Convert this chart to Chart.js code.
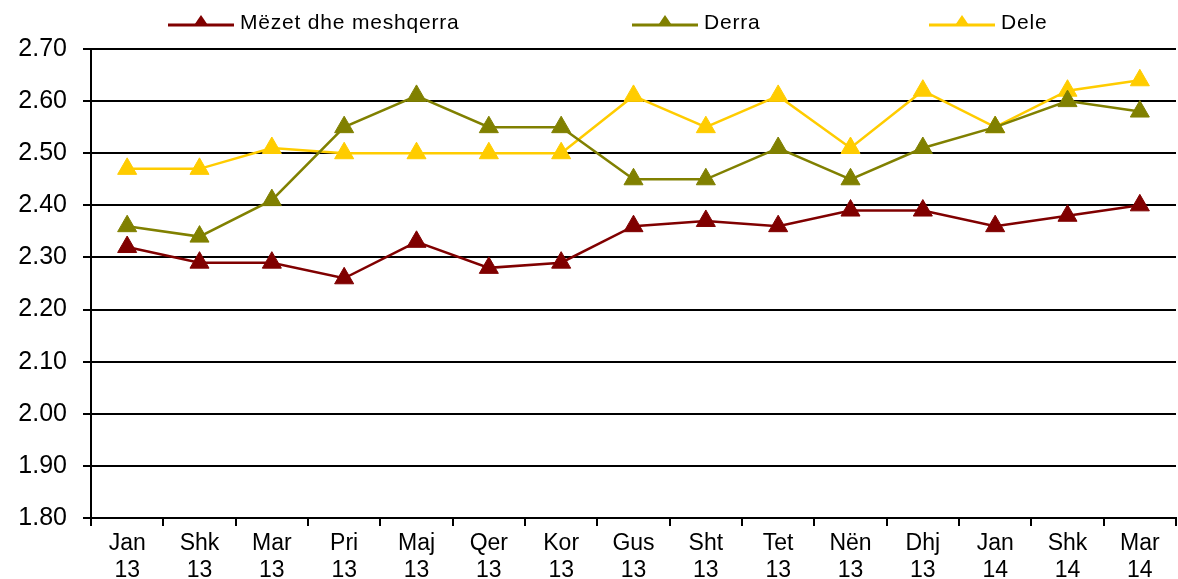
<!DOCTYPE html>
<html>
<head>
<meta charset="utf-8">
<script src="https://cdn.jsdelivr.net/npm/chart.js@4.4.1/dist/chart.umd.min.js"></script>
<style>
  html, body { margin: 0; padding: 0; background: #fff; }
  #wrap { position: relative; width: 1178px; height: 579px; }
  #legend { position: absolute; top: 9px; left: 0; width: 1178px; height: 26px; font-family: "Liberation Sans", Arial, sans-serif; font-size: 21px; letter-spacing: 0.8px; color: #000; }
  .item { position: absolute; top: 0; display: flex; align-items: center; height: 26px; white-space: nowrap; }
  .item svg { margin-right: 6px; }
</style>
</head>
<body>
<div id="wrap">
  <canvas id="c" width="1178" height="579"></canvas>
  <div id="legend"></div>
</div>
<script>
const categories = [["Jan","13"],["Shk","13"],["Mar","13"],["Pri","13"],["Maj","13"],["Qer","13"],["Kor","13"],["Gus","13"],["Sht","13"],["Tet","13"],["Nën","13"],["Dhj","13"],["Jan","14"],["Shk","14"],["Mar","14"]];
const seriesNames = ["Mëzet dhe meshqerra", "Derra", "Dele"];
const mezet = [2.32, 2.29, 2.29, 2.26, 2.33, 2.28, 2.29, 2.36, 2.37, 2.36, 2.39, 2.39, 2.36, 2.38, 2.40];
const derra = [2.36, 2.34, 2.41, 2.55, 2.61, 2.55, 2.55, 2.45, 2.45, 2.51, 2.45, 2.51, 2.55, 2.60, 2.58];
const dele  = [2.47, 2.47, 2.51, 2.50, 2.50, 2.50, 2.50, 2.61, 2.55, 2.61, 2.51, 2.62, 2.55, 2.62, 2.64];
const yTicks = [1.80, 1.90, 2.00, 2.10, 2.20, 2.30, 2.40, 2.50, 2.60, 2.70];
const colors = ["#800000", "#808000", "#FFCC00"];
const legendX = [168, 632, 929];

const FONT = '"Liberation Sans", Arial, sans-serif';

function ds(label, data, color) {
  return {
    label, data,
    borderColor: color, backgroundColor: color,
    borderWidth: 2.5,
    pointStyle: 'triangle', pointRadius: 11, pointHoverRadius: 11,
    pointBorderColor: color, pointBackgroundColor: color, pointBorderWidth: 1,
    tension: 0, fill: false, clip: false
  };
}

new Chart(document.getElementById('c'), {
  type: 'line',
  data: {
    labels: categories,
    datasets: [ds(seriesNames[0], mezet, colors[0]), ds(seriesNames[1], derra, colors[1]), ds(seriesNames[2], dele, colors[2])]
  },
  options: {
    responsive: false,
    animation: false,
    events: [],
    layout: { autoPadding: false, padding: { top: 49, right: 2, left: 0, bottom: 0 } },
    plugins: { legend: { display: false }, tooltip: { enabled: false } },
    scales: {
      x: {
        offset: true,
        grid: { display: true, offset: true, drawOnChartArea: false, drawTicks: true, tickLength: 8, color: '#000', lineWidth: 2 },
        border: { display: true, color: '#000', width: 2 },
        ticks: { color: '#000', font: { family: FONT, size: 23, lineHeight: 1.14 }, padding: 5, maxRotation: 0, autoSkip: false },
        afterFit: s => { s.height = 61; s.paddingLeft = 0; s.paddingRight = 0; }
      },
      y: {
        min: 1.8, max: 2.7,
        afterBuildTicks: s => { s.ticks = yTicks.map(v => ({ value: v })); },
        grid: { color: '#000', lineWidth: 2, tickLength: 8, drawTicks: true },
        border: { display: true, color: '#000', width: 2 },
        ticks: { color: '#000', font: { family: FONT, size: 25 }, padding: 16, callback: v => Number(v).toFixed(2) },
        afterFit: s => { s.width = 91; s.paddingTop = 0; s.paddingBottom = 0; }
      }
    }
  }
});

const leg = document.getElementById('legend');
seriesNames.forEach((n, i) => {
  const d = document.createElement('div');
  d.className = 'item';
  d.style.left = legendX[i] + 'px';
  d.innerHTML = '<svg width="66" height="20"><line x1="0" y1="13" x2="66" y2="13" stroke="' + colors[i] + '" stroke-width="3"/><polygon points="33,3 40.5,14 25.5,14" fill="' + colors[i] + '"/></svg><span>' + n + '</span>';
  leg.appendChild(d);
});
</script>
</body>
</html>
